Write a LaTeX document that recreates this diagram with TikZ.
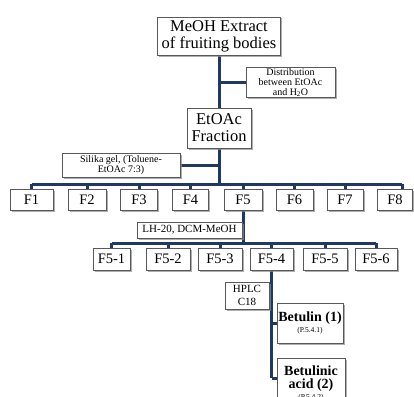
\documentclass[tikz,border=0pt]{standalone}
\usepackage{fontspec}
\setmainfont{Liberation Serif}
\usetikzlibrary{shadows,backgrounds,calc}
\definecolor{navy}{HTML}{1F3864}
\tikzset{
  box/.style={draw=black!65, line width=0.6pt, fill=white, align=center, inner sep=1pt,
    drop shadow={shadow xshift=1.5pt, shadow yshift=-1.5pt, fill=black!45, opacity=0.7}},
  conn/.style={draw=navy, line width=3pt},
  big/.style={font=\fontsize{16.5}{17}\selectfont},
  mid/.style={font=\fontsize{14.5}{15}\selectfont},
  small/.style={font=\fontsize{10}{10.5}\selectfont},
  bold/.style={font=\fontsize{14}{14.5}\selectfont\bfseries},
}
\newcommand{\tinytxt}[1]{{\fontsize{7.5}{8}\selectfont\mdseries #1}}
\begin{document}
\begin{tikzpicture}[x=1pt,y=-1pt]
\useasboundingbox (0,0) rectangle (414,396);
% top
\node[box,big,minimum width=123pt,minimum height=38pt] (top) at (219,36) {MeOH Extract\\of fruiting bodies};
\node[box,font=\fontsize{10}{10}\selectfont,minimum width=89pt,minimum height=29pt] (dist) at (290.5,82.5) {Distribution\\between EtOAc\\and H\textsubscript{2}O};
\node[box,big,minimum width=64pt,minimum height=40pt] (etoac) at (219,128) {EtOAc\\Fraction};
\node[box,small,minimum width=118pt,minimum height=24pt] (sil) at (121,165) {Silika gel, (Toluene-\\EtOAc 7:3)};
% F boxes
\foreach \n/\x/\w in {1/31.5/43,2/87/38,3/139/37,4/190.5/36,5/243/38,6/294.5/37,7/345/36,8/395/35}{
  \node[box,mid,minimum width=\w pt,minimum height=21pt] (f\n) at (\x,200) {F\n};
}
\coordinate (bus1) at (0,184);
\node[box,font=\fontsize{11}{11}\selectfont,minimum width=105pt,minimum height=16pt] (lh) at (189.5,230) {LH-20, DCM-MeOH};
\coordinate (bus2) at (0,243);
\foreach \n/\x/\w in {1/111.5/37,2/168/44,3/220/44,4/271.5/43,5/325/44,6/376/42}{
  \node[box,mid,minimum width=\w pt,minimum height=22pt] (g\n) at (\x,259) {F5-\n};
}
\node[box,font=\fontsize{11}{12.5}\selectfont,minimum width=44pt,minimum height=27pt] (hplc) at (247,295.5) {HPLC\\C18};
\node[box,bold,minimum width=66pt,minimum height=40pt] (bet) at (310,323) {Betulin (1)\\[-3pt]\tinytxt{(P.5.4.1)}};
\node[box,bold,minimum width=68pt,minimum height=50pt,anchor=north] (beta) at (311,358) {Betulinic\\[-1pt]acid (2)\\[-4pt]\tinytxt{(P.5.4.2)}};
\coordinate (end4) at (271.5,378);
\begin{scope}[on background layer]
\draw[conn] (top.south) -- (etoac.north);
\draw[conn] (top.south |- dist.west) -- (dist.west);
\draw[conn] (etoac.south) -- (etoac.south |- bus1);
\draw[conn] (sil.east) -- (etoac.south |- sil.east);
\draw[conn] (f1.north |- bus1) -- ($(f8.north |- bus1)+(7,0)$);
\foreach \n in {1,...,7}{\draw[conn] (f\n.north |- bus1) -- (f\n.north);}
\draw[conn] ($(f8.north |- bus1)+(7,0)$) -- ($(f8.north)+(7,0)$);
\draw[conn] (f5.south) -- (f5.south |- bus2);
\draw[conn] (lh.east) -- (f5.south |- lh.east);
\draw[conn] (g1.north |- bus2) -- (g6.north |- bus2);
\foreach \n in {1,...,6}{\draw[conn] (g\n.north |- bus2) -- (g\n.north);}
\draw[conn] (g4.south) -- (end4);
\draw[conn] (hplc.east) -- (g4.south |- hplc.east);
\draw[conn] (bet.west) -- (g4.south |- bet.west);
\draw[conn] (beta.west |- end4) -- (end4);
\end{scope}
\end{tikzpicture}
\end{document}
